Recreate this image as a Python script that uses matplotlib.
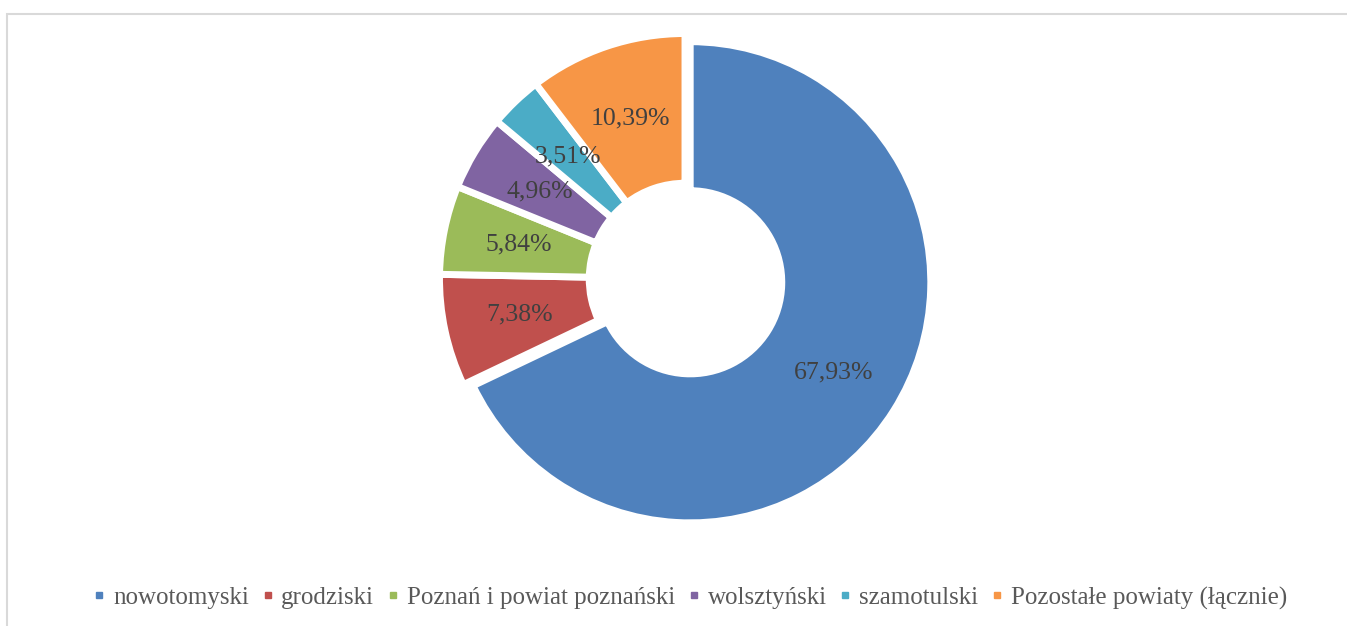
import matplotlib.pyplot as plt
from matplotlib.patches import Rectangle
from matplotlib.lines import Line2D

categories = ['nowotomyski', 'grodziski', 'Poznań i powiat poznański',
              'wolsztyński', 'szamotulski', 'Pozostałe powiaty (łącznie)']
shares = [67.93, 7.38, 5.84, 4.96, 3.51, 10.39]
colors = ['#4F81BD', '#C0504D', '#9BBB59', '#8064A2', '#4BACC6', '#F79646']

plt.rcParams['font.family'] = ['Liberation Serif', 'DejaVu Serif']

W, H = 1347, 626
fig = plt.figure(figsize=(W / 100, H / 100), dpi=100)

# ramka wykresu (jak w Excelu)
fig.patches.append(Rectangle((7 / W, -0.02), 1.05, (H - 14) / H + 0.02,
                             transform=fig.transFigure, fill=False,
                             edgecolor='#D9D9D9', linewidth=1.5))

cx, cy, r = 685, 279, 245.5
ax = fig.add_axes([(cx - r) / W, (H - cy - r) / H, 2 * r / W, 2 * r / H])

labels = [f'{v:.2f}%'.replace('.', ',') for v in shares]
explode = [0.025, 0, 0, 0, 0, 0]
wedges, texts = ax.pie(
    shares, colors=colors, startangle=90, counterclock=False,
    explode=explode, labels=labels, labeldistance=0.69,
    wedgeprops=dict(width=0.61, edgecolor='white', linewidth=5),
    textprops=dict(fontsize=18.5, color='#404040'))
for t in texts:
    t.set_horizontalalignment('center')
    t.set_verticalalignment('center')
# wysunięty wycinek jest w Excelu nieco mniejszy
wedges[0].set_radius(0.98)
wedges[0].set_width(0.98 - 0.373)
ax.set_xlim(-1, 1)
ax.set_ylim(-1, 1)
ax.set_aspect('equal')

handles = [Line2D([], [], marker='s', linestyle='', markersize=5,
                  markerfacecolor=c, markeredgecolor=c) for c in colors]
fig.legend(handles, categories, loc='center', bbox_to_anchor=(690 / W, 1 - 598 / H),
           ncol=6, frameon=False, fontsize=18, labelcolor='#595959',
           handlelength=0.5, handletextpad=0.3, columnspacing=0.5,
           borderaxespad=0, borderpad=0)

fig.savefig('out.png', dpi=100, facecolor='white')
